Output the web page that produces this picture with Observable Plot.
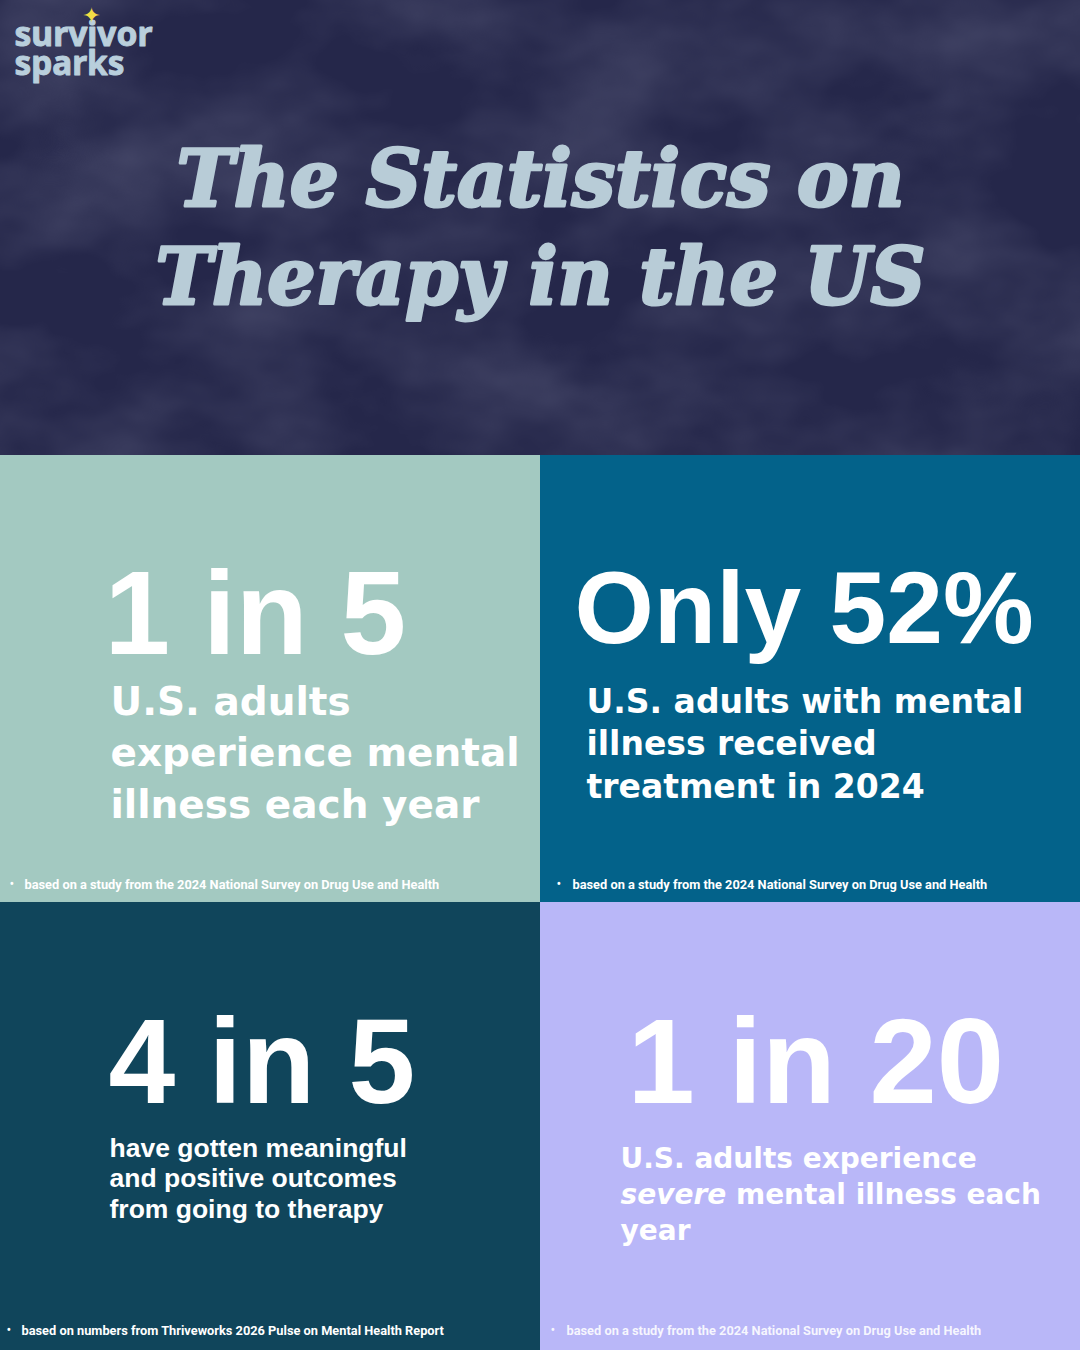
<!DOCTYPE html>
<html>
<head>
<meta charset="utf-8">
<script src="https://cdn.jsdelivr.net/npm/d3@7"></script>
<script src="https://cdn.jsdelivr.net/npm/@observablehq/plot@0.6"></script>
<style>
  html, body { margin: 0; padding: 0; background: #26284a; }
  #chart svg { display: block; }
</style>
</head>
<body>
<div id="chart"></div>
<script>
// ---------- content ----------
const titleLines = ["The Statistics on", "Therapy in the US"];
const logoWords = ["survivor", "sparks"];
const stats = ["1 in 5", "Only 52%", "4 in 5", "1 in 20"];
const descriptions = [
  "U.S. adults\nexperience mental\nillness each year",
  "U.S. adults with mental\nillness received\ntreatment in 2024",
  "have gotten meaningful\nand positive outcomes\nfrom going to therapy",
  "U.S. adults experience\nsevere mental illness each\nyear"
];
const sources = [
  "based on a study from the 2024 National Survey on Drug Use and Health",
  "based on a study from the 2024 National Survey on Drug Use and Health",
  "based on numbers from Thriveworks 2026 Pulse on Mental Health Report",
  "based on a study from the 2024 National Survey on Drug Use and Health"
];

// ---------- layout & style ----------
const W = 1080, H = 1350, HEADER = 455, MID = 902, HALF = 540;
const headerColor = "#25274a";
const titleColor = "#b8ccd7";
const logoColor = "#b9cfdc";
const starColor = "#f3dc45";
const titleLayout = {x: 540, baselines: [205, 303], size: 79, lengths: [728, 770]};
const logoLayout = {x: 14, baselines: [45, 74], size: 34, lengths: [138, 110]};
const panelStyle = [
  {fill: "#a3c9c1", statX: 104, statBase: 653,  statSize: 118, descX: 110, descBase: 705,  descSize: 39,   descLH: 1.33, descFont: "sans", bulletX: 9,   srcX: 24,  srcBase: 888,  srcOpacity: 1},
  {fill: "#03628a", statX: 574, statBase: 642,  statSize: 102, descX: 586, descBase: 705,  descSize: 33,   descLH: 1.3,  descFont: "sans", bulletX: 556, srcX: 572, srcBase: 888,  srcOpacity: 1},
  {fill: "#10455b", statX: 108, statBase: 1102, statSize: 120, descX: 109, descBase: 1154, descSize: 26.5, descLH: 1.14, descFont: "grot", bulletX: 6,   srcX: 21,  srcBase: 1334, srcOpacity: 1},
  {fill: "#b9b7f8", statX: 627, statBase: 1102, statSize: 121, descX: 620, descBase: 1162, descSize: 28,   descLH: 1.29, descFont: "sans", bulletX: 550, srcX: 566, srcBase: 1334, srcOpacity: 0.88}
];
const fonts = {
  stat: "'Liberation Sans', Arial, sans-serif",
  sans: "'DejaVu Sans', sans-serif",
  grot: "'Liberation Sans', Arial, sans-serif",
  src: "Roboto, 'Liberation Sans', sans-serif"
};

const panels = stats.map((s, i) => ({
  stat: s, desc: descriptions[i], source: sources[i],
  col: i % 2, row: Math.floor(i / 2), ...panelStyle[i]
}));

// ---------- marks ----------
const marks = [
  // header background + texture overlay
  Plot.rect([0], {x1: 0, x2: W, y1: 0, y2: HEADER, fill: headerColor}),
  Plot.rect([0], {x1: 0, x2: W, y1: 0, y2: HEADER, fill: "#ffffff"}),
  // logo
  Plot.text(logoWords, {
    x: logoLayout.x, y: logoLayout.baselines, text: d => d, textAnchor: "start", lineAnchor: "bottom",
    fontSize: logoLayout.size, fontWeight: 700, fill: logoColor, stroke: logoColor, strokeWidth: 1,
    fontFamily: "'Noto Sans', sans-serif"
  }),
  Plot.text(["✦"], {x: 91, y: 15, text: d => d, fontSize: 22, fill: starColor, fontFamily: "'DejaVu Sans', sans-serif"}),
  // title
  Plot.text(titleLines, {
    x: titleLayout.x, y: titleLayout.baselines, text: d => d, lineAnchor: "bottom",
    fontSize: titleLayout.size, fontWeight: 700, fontStyle: "italic",
    fontFamily: "'DejaVu Serif', serif", fill: titleColor, stroke: titleColor, strokeWidth: 3
  }),
  // panels
  Plot.rect(panels, {
    x1: d => d.col * HALF, x2: d => (d.col + 1) * HALF,
    y1: d => d.row ? MID : HEADER, y2: d => d.row ? H : MID,
    fill: d => d.fill
  })
];

panels.forEach((p) => {
  marks.push(
    Plot.text([p], {
      x: p.statX, y: p.statBase, text: "stat", textAnchor: "start", lineAnchor: "bottom",
      fontSize: p.statSize, fontWeight: 700, fontFamily: fonts.stat, fill: "white"
    }),
    Plot.text([p], {
      x: p.descX, y: p.descBase - 0.71 * p.descSize, text: "desc", textAnchor: "start", lineAnchor: "top",
      lineHeight: p.descLH, fontSize: p.descSize, fontWeight: 700, fontFamily: fonts[p.descFont], fill: "white"
    }),
    Plot.text([p], {
      x: p.bulletX, y: p.srcBase, text: () => "•", textAnchor: "start", lineAnchor: "bottom",
      fontSize: 14, fontFamily: fonts.src, fill: "white", fillOpacity: p.srcOpacity
    }),
    Plot.text([p], {
      x: p.srcX, y: p.srcBase, text: "source", textAnchor: "start", lineAnchor: "bottom",
      fontSize: 12.8, fontWeight: 700, fontFamily: fonts.src, fill: "white", fillOpacity: p.srcOpacity
    })
  );
});

const chart = Plot.plot({
  width: W, height: H,
  margin: 0,
  style: {background: headerColor, overflow: "visible"},
  x: {domain: [0, W], range: [0, W], axis: null},
  y: {domain: [0, H], range: [0, H], axis: null},
  color: {type: "identity"},
  marks
});
document.getElementById("chart").appendChild(chart);

// ---------- post-processing: texture, text fitting, italic word ----------
const svg = d3.select(chart);
const defs = svg.insert("defs", ":first-child");
const f = defs.append("filter").attr("id", "clouds")
  .attr("filterUnits", "userSpaceOnUse")
  .attr("x", 0).attr("y", 0).attr("width", W).attr("height", HEADER);
f.append("feTurbulence").attr("type", "fractalNoise")
  .attr("baseFrequency", "0.006 0.009").attr("numOctaves", 4).attr("seed", 11).attr("result", "noise");
f.append("feColorMatrix").attr("in", "noise").attr("type", "matrix")
  .attr("values", "0 0 0 0 0.24  0 0 0 0 0.25  0 0 0 0 0.38  0.55 0 0 0 -0.2");
svg.selectAll('g[fill="#ffffff"] > rect').attr("filter", "url(#clouds)");

svg.selectAll("text").each(function() {
  const el = d3.select(this);
  const txt = el.text();
  const ti = titleLines.indexOf(txt);
  if (ti >= 0) el.attr("textLength", titleLayout.lengths[ti]).attr("lengthAdjust", "spacingAndGlyphs");
  const li = logoWords.indexOf(txt);
  if (li >= 0) el.attr("textLength", logoLayout.lengths[li]).attr("lengthAdjust", "spacingAndGlyphs");
});

svg.selectAll("tspan").each(function() {
  const t = d3.select(this);
  if (t.text().startsWith("severe")) {
    const rest = t.text().slice("severe".length);
    t.text("");
    t.append("tspan").attr("font-style", "italic").text("severe");
    t.append("tspan").text(rest);
  }
});
</script>
</body>
</html>
